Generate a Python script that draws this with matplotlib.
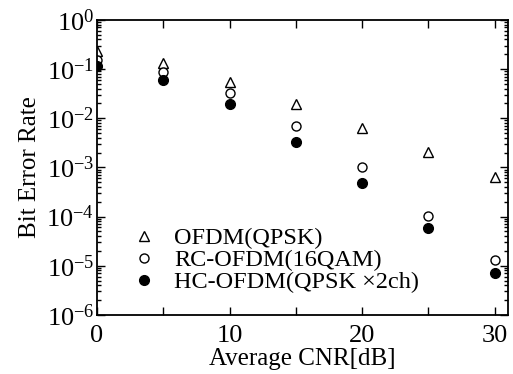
import matplotlib
matplotlib.use("Agg")
import matplotlib.pyplot as plt
from matplotlib.ticker import LogLocator, NullFormatter, FixedLocator

plt.rcParams['font.family'] = ['Liberation Serif', 'DejaVu Serif']
plt.rcParams['mathtext.fontset'] = 'stix'

# 平均CNR [dB]
cnr = [0, 5, 10, 15, 20, 25, 30]
ber_ofdm = [0.23, 0.13, 0.055, 0.0195, 6.3e-3, 2.1e-3, 6.5e-4]
ber_rc = [0.15, 0.088, 0.033, 7.0e-3, 1.04e-3, 1.04e-4, 1.3e-5]
ber_hc = [0.117, 0.06, 0.0195, 3.3e-3, 4.8e-4, 5.9e-5, 7.2e-6]
labels = ['OFDM(QPSK)', 'RC-OFDM(16QAM)', 'HC-OFDM(QPSK \u00d72ch)']

fig = plt.figure(figsize=(5.13, 3.74), dpi=100)
ax = fig.add_axes([0.189, 0.158, 0.801, 0.789])

ax.plot(cnr, ber_ofdm, ls='none', marker='^', ms=7, mfc='white', mec='black', mew=1.0, label=labels[0])
ax.plot(cnr, ber_rc, ls='none', marker='o', ms=6.5, mfc='white', mec='black', mew=1.0, label=labels[1])
ax.plot(cnr, ber_hc, ls='none', marker='o', ms=7, mfc='black', mec='black', label=labels[2])

ax.set_yscale('log')
ax.set_ylim(1e-6, 1)
ax.set_xlim(0, 31)
ax.set_xticks([0, 10, 20, 30])
ax.xaxis.set_minor_locator(FixedLocator([5, 15, 25]))
ax.yaxis.set_major_locator(LogLocator(base=10, numticks=10))
ax.yaxis.set_minor_locator(LogLocator(base=10, subs=range(2, 10), numticks=10))
ax.yaxis.set_minor_formatter(NullFormatter())

ax.tick_params(which='both', direction='in', top=True, right=True, labelsize=19, width=1.0)
ax.tick_params(which='major', length=6)
ax.tick_params(which='minor', length=3)
ax.tick_params(axis='x', which='minor', length=6)
ax.tick_params(axis='x', pad=7)
ax.tick_params(axis='y', pad=2)
for s in ax.spines.values():
    s.set_linewidth(1.3)

ax.set_xlabel('Average CNR[dB]', fontsize=18, labelpad=1)
ax.set_ylabel('Bit Error Rate', fontsize=18, labelpad=4)

ax.legend(loc='lower left', bbox_to_anchor=(0.025, 0.015), frameon=False, fontsize=17.5,
          handletextpad=0.45, labelspacing=0.0, borderaxespad=0.3, handlelength=1.6)

fig.savefig('out.png', dpi=100)
